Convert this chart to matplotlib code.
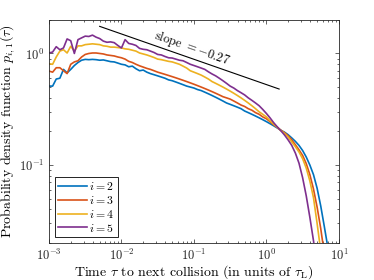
import numpy as np
import matplotlib
matplotlib.use('Agg')
import matplotlib.pyplot as plt

plt.rcParams['font.family'] = 'serif'
plt.rcParams['font.serif'] = ['cmr10', 'DejaVu Serif']
plt.rcParams['mathtext.fontset'] = 'cm'
plt.rcParams['axes.formatter.use_mathtext'] = True

# log10 of tau, sampled every 0.05 decade from -3 to 0.85
log_tau = np.round(np.arange(-3.0, 0.851, 0.05), 2)

# i = 2
p2 = [0.51, 0.51, 0.59, 0.60, 0.72, 0.67, 0.72, 0.78, 0.83, 0.87,
      0.885, 0.88, 0.885, 0.88, 0.87, 0.875, 0.86, 0.845, 0.84, 0.82,
      0.80, 0.79, 0.76, 0.77, 0.73, 0.70, 0.71, 0.68, 0.66, 0.645,
      0.63, 0.615, 0.60, 0.58, 0.57, 0.555, 0.54, 0.525, 0.51, 0.50,
      0.49, 0.475, 0.465, 0.45, 0.435, 0.42, 0.405, 0.39, 0.375, 0.36,
      0.35, 0.34, 0.33, 0.32, 0.305, 0.295, 0.285, 0.275, 0.265, 0.255,
      0.245, 0.235, 0.225, 0.215, 0.205, 0.197, 0.187, 0.175, 0.163, 0.150,
      0.135, 0.118, 0.10, 0.082, 0.062, 0.043, 0.028, 0.018]
# i = 3
p3 = [0.695, 0.68, 0.745, 0.745, 0.70, 0.66, 0.80, 0.84, 0.86, 0.93,
      0.98, 1.00, 1.01, 1.01, 1.00, 0.99, 0.97, 0.96, 0.95, 0.93,
      0.915, 0.89, 0.85, 0.83, 0.80, 0.775, 0.755, 0.735, 0.72, 0.70,
      0.68, 0.665, 0.65, 0.635, 0.62, 0.605, 0.59, 0.575, 0.56, 0.545,
      0.53, 0.515, 0.50, 0.485, 0.47, 0.455, 0.44, 0.425, 0.41, 0.40,
      0.39, 0.375, 0.36, 0.345, 0.335, 0.32, 0.31, 0.295, 0.285, 0.27,
      0.26, 0.245, 0.23, 0.218, 0.205, 0.195, 0.183, 0.168, 0.152, 0.137,
      0.122, 0.103, 0.082, 0.061, 0.042, 0.027, 0.016, 0.009]
# i = 4
p4 = [0.81, 0.80, 0.93, 1.05, 1.08, 1.01, 1.16, 1.05, 1.17, 1.17,
      1.20, 1.21, 1.22, 1.21, 1.20, 1.17, 1.16, 1.14, 1.14, 1.13,
      1.12, 1.10, 1.09, 1.07, 1.05, 1.01, 0.99, 0.97, 0.945, 0.92,
      0.89, 0.88, 0.865, 0.85, 0.84, 0.82, 0.80, 0.77, 0.74, 0.70,
      0.68, 0.66, 0.64, 0.615, 0.59, 0.56, 0.54, 0.52, 0.50, 0.48,
      0.46, 0.44, 0.42, 0.40, 0.38, 0.36, 0.34, 0.32, 0.30, 0.285,
      0.27, 0.25, 0.233, 0.218, 0.204, 0.192, 0.178, 0.161, 0.146, 0.131,
      0.114, 0.094, 0.072, 0.051, 0.030, 0.017, 0.009, 0.005]
# i = 5
p5 = [1.01, 1.03, 1.15, 1.08, 1.12, 1.35, 1.30, 1.00, 1.33, 1.38,
      1.43, 1.42, 1.46, 1.40, 1.36, 1.29, 1.26, 1.27, 1.25, 1.18,
      1.12, 1.33, 1.23, 1.21, 1.18, 1.11, 1.09, 1.08, 1.05, 1.02,
      0.98, 0.97, 0.94, 0.915, 0.91, 0.89, 0.87, 0.86, 0.83, 0.80,
      0.78, 0.76, 0.74, 0.72, 0.685, 0.655, 0.63, 0.60, 0.57, 0.54,
      0.51, 0.49, 0.465, 0.445, 0.425, 0.40, 0.38, 0.36, 0.34, 0.315,
      0.29, 0.265, 0.24, 0.22, 0.203, 0.186, 0.168, 0.150, 0.128, 0.104,
      0.077, 0.053, 0.034, 0.021, 0.012, 0.007, 0.004, 0.002]

labels = [r'$i = 2$', r'$i = 3$', r'$i = 4$', r'$i = 5$']
colors = ['#0072BD', '#D95319', '#EDB120', '#7E2F8E']

# reference slope line
slope_x = [0.005, 1.5]
slope_y = [1.75, 0.48]

tau = 10.0 ** log_tau

fig = plt.figure(figsize=(3.74, 2.80), dpi=100)
ax = fig.add_axes([0.131, 0.132, 0.775, 0.797])

for p, lab, c in zip([p2, p3, p4, p5], labels, colors):
    ax.loglog(tau, p, color=c, lw=1.2, label=lab)

ax.loglog(slope_x, slope_y, color='k', lw=0.8)
ax.text(0.093, 1.12, 'slope $= -0.27$', rotation=-19.5, fontsize=9,
        ha='center', va='center', rotation_mode='anchor')

ax.set_xlim(1e-3, 1e1)
ax.set_ylim(0.02, 2)
ax.set_xticks([1e-3, 1e-2, 1e-1, 1e0, 1e1])
ax.set_yticks([1e-1, 1e0])

grey = '#262626'
for s in ax.spines.values():
    s.set_color(grey)
    s.set_linewidth(0.6)
ax.tick_params(which='both', direction='in', top=True, right=True,
               colors=grey, labelsize=9, width=0.5)
ax.tick_params(which='major', length=3)
ax.tick_params(which='minor', length=1.6)

ax.set_xlabel(r'Time $\tau$ to next collision (in units of $\tau_{\mathrm{L}}$)',
              fontsize=10, labelpad=0)
ax.set_ylabel(r'Probability density function $p_{i,1}(\tau)$', fontsize=10,
              labelpad=1)

leg = ax.legend(loc='lower left', fontsize=8.5, fancybox=False, framealpha=1,
                edgecolor='k', handlelength=2.4, borderaxespad=0.5,
                labelspacing=0.15, handletextpad=0.2, borderpad=0.3)
leg.get_frame().set_linewidth(0.6)

fig.savefig('out.png', dpi=100)
